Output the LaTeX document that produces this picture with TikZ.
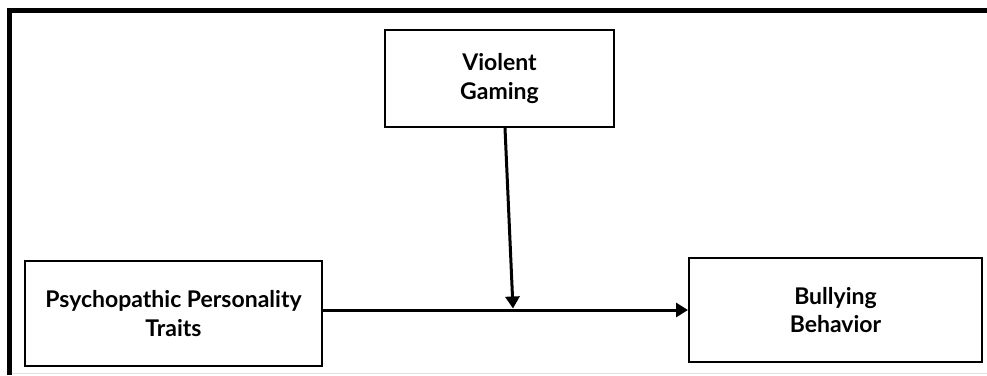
\documentclass[tikz,border=0pt]{standalone}
\usepackage{fontspec}
\setmainfont{Lato}
\usetikzlibrary{arrows.meta}
\begin{document}
\begin{tikzpicture}[x=1pt,y=-1pt,
  box/.style={draw=black,line width=2pt,fill=white,inner sep=0pt,
    align=center,font=\bfseries\fontsize{23}{28.5}\selectfont},
  link/.style={line width=3pt,-{Triangle[length=12pt,width=14pt]}}]
  \useasboundingbox (0,0) rectangle (987,375);
  % outer frame: top and left edges only
  \draw[line width=5pt] (9.5,375) -- (9.5,10.5) -- (987,10.5);
  \draw[black!12,line width=0.8pt] (12,373.5) -- (987,373.5);
  % variables
  \node[box,minimum width=297pt,minimum height=105pt] (ppt) at (173.5,313.5)
    {Psychopathic Personality\\Traits};
  \node[box,minimum width=229pt,minimum height=97pt] (vg) at (499.5,78.5)
    {Violent\\Gaming};
  \node[box,minimum width=293pt,minimum height=104pt] (bb) at (835.5,310)
    {Bullying\\Behavior};
  % paths
  \coordinate (mod) at (513,308.5);
  \draw[link] (ppt.east |- bb.west) -- (bb.west);
  \draw[link] ([xshift=5.5pt]vg.south) -- (mod);
\end{tikzpicture}
\end{document}
